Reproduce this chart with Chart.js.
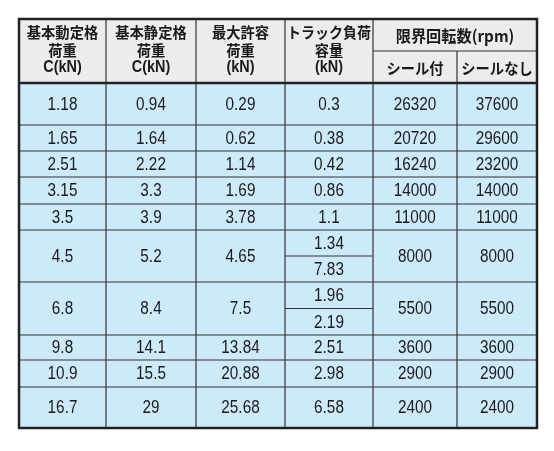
<!DOCTYPE html>
<html>
<head>
<meta charset="utf-8">
<script src="https://cdn.jsdelivr.net/npm/chart.js@4.4.0/dist/chart.umd.min.js"></script>
<style>
  html, body { margin: 0; padding: 0; background: #fff; }
  canvas { display: block; }
</style>
</head>
<body>
<canvas id="tbl" width="554" height="451"></canvas>
<script>
// table values
const dynamicLoad = ['1.18', '1.65', '2.51', '3.15', '3.5', '4.5', '6.8', '9.8', '10.9', '16.7'];
const staticLoad = ['0.94', '1.64', '2.22', '3.3', '3.9', '5.2', '8.4', '14.1', '15.5', '29'];
const maxLoad = ['0.29', '0.62', '1.14', '1.69', '3.78', '4.65', '7.5', '13.84', '20.88', '25.68'];
const trackLoad = [['0.3'], ['0.38'], ['0.42'], ['0.86'], ['1.1'], ['1.34', '7.83'], ['1.96', '2.19'], ['2.51'], ['2.98'], ['6.58']];
const speedSealed = ['26320', '20720', '16240', '14000', '11000', '8000', '5500', '3600', '2900', '2400'];
const speedOpen = ['37600', '29600', '23200', '14000', '11000', '8000', '5500', '3600', '2900', '2400'];
const headers = [
  ['基本動定格', '荷重', 'C(kN)'],
  ['基本静定格', '荷重', 'C(kN)'],
  ['最大許容', '荷重', '(kN)'],
  ['トラック負荷', '容量', '(kN)']
];
const speedHeader = '限界回転数(rpm)';
const speedSubHeaders = ['シール付', 'シールなし'];

// layout (scale units = pixels of the reference)
const colEdges = [19, 106, 196, 285, 373, 457, 537];
const headTop = 19, headMid = 51, headBottom = 83;
const rowEdges = [83, 125, 151, 177, 204, 230, 282, 335, 360, 387, 428];

const tablePlugin = {
  id: 'table',
  afterDraw(chart) {
    const c = chart.ctx, X = chart.scales.x, Y = chart.scales.y;
    const px = v => X.getPixelForValue(v), py = v => Y.getPixelForValue(v);
    const line = (x1, y1, x2, y2, w, col) => {
      c.beginPath(); c.lineWidth = w; c.strokeStyle = col || '#333';
      c.moveTo(px(x1), py(y1)); c.lineTo(px(x2), py(y2)); c.stroke();
    };
    // squeezed text, like the condensed face of the original
    const text = (s, x, y, font, sx, maxW) => {
      c.save();
      c.font = font; c.fillStyle = '#1a1a1a';
      c.textAlign = 'center'; c.textBaseline = 'middle';
      let k = sx || 1;
      if (maxW) k = Math.min(k, maxW / c.measureText(s).width);
      c.translate(px(x), py(y)); c.scale(k, 1);
      c.fillText(s, 0, 0);
      c.restore();
    };
    const L = colEdges[0], R = colEdges[6];
    c.save();
    c.fillStyle = '#ececec';
    c.fillRect(px(L), py(headTop), px(R) - px(L), py(headBottom) - py(headTop));
    c.fillStyle = '#cdeafb';
    c.fillRect(px(L), py(headBottom), px(R) - px(L), py(rowEdges[10]) - py(headBottom));

    // header text
    const hFont = 'bold 15px "Noto Sans CJK JP", sans-serif';
    headers.forEach((h, i) => {
      const cx = (colEdges[i] + colEdges[i + 1]) / 2;
      const w = colEdges[i + 1] - colEdges[i] - 4;
      text(h[0], cx, 32, hFont, 0.95, w);
      text(h[1], cx, 50, hFont, 0.95, w);
      text(h[2], cx, 68, 'bold 16px "Liberation Sans", sans-serif', 0.9, w);
    });
    text(speedHeader, (colEdges[4] + R) / 2, 36, 'bold 16px "Noto Sans CJK JP", sans-serif', 0.95);
    speedSubHeaders.forEach((s, i) => text(s, (colEdges[4 + i] + colEdges[5 + i]) / 2, 68, hFont, 0.95, colEdges[5 + i] - colEdges[4 + i] - 3));

    // body text
    const bFont = '18px "Liberation Sans", sans-serif';
    const cols = [dynamicLoad, staticLoad, maxLoad, null, speedSealed, speedOpen];
    dynamicLoad.forEach((_, r) => {
      const t = rowEdges[r], b = rowEdges[r + 1], cy = (t + b) / 2 + 1;
      cols.forEach((arr, i) => {
        const cx = (colEdges[i] + colEdges[i + 1]) / 2;
        if (arr) { text(arr[r], cx, cy, bFont, 0.85); return; }
        const parts = trackLoad[r];
        const h = (b - t) / parts.length;
        parts.forEach((p, k) => {
          text(p, cx, t + h * (k + 0.5) + 1, bFont, 0.85);
          if (k > 0) line(colEdges[3], t + h * k, colEdges[4], t + h * k, 1.2);
        });
      });
      if (r > 0) line(L, t, R, t, 1.2);
    });

    // header grid
    line(colEdges[4], headMid, R, headMid, 1.2);
    line(colEdges[5], headMid, colEdges[5], rowEdges[10], 1.2);
    for (let i = 1; i <= 4; i++) line(colEdges[i], headTop, colEdges[i], rowEdges[10], 1.2);
    line(L, headBottom, R, headBottom, 2.5, '#222');
    c.lineWidth = 2.5; c.strokeStyle = '#222';
    c.strokeRect(px(L), py(headTop), px(R) - px(L), py(rowEdges[10]) - py(headTop));
    c.restore();
  }
};

new Chart(document.getElementById('tbl'), {
  type: 'scatter',
  data: { datasets: [{ data: [] }] },
  options: {
    responsive: false,
    animation: false,
    layout: { padding: 0 },
    plugins: { legend: { display: false }, tooltip: { enabled: false } },
    scales: {
      x: { type: 'linear', min: 0, max: 554, display: false },
      y: { type: 'linear', min: 0, max: 451, reverse: true, display: false }
    }
  },
  plugins: [tablePlugin]
});
</script>
</body>
</html>
